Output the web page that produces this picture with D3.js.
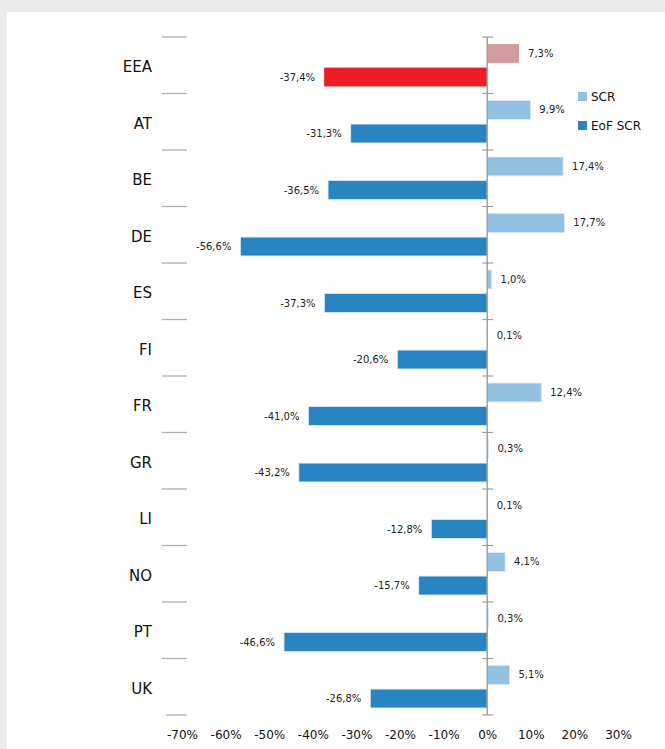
<!DOCTYPE html>
<html>
<head>
<meta charset="utf-8">
<script src="https://cdn.jsdelivr.net/npm/d3@7"></script>
<style>
  html, body { margin: 0; padding: 0; background: #ebebeb; }
  svg { display: block; font-family: "DejaVu Sans", Verdana, sans-serif; }
</style>
</head>
<body>
<script>
'use strict';

var countries = ["EEA", "AT", "BE", "DE", "ES", "FI", "FR", "GR", "LI", "NO", "PT", "UK"];
var scrValues = [7.3, 9.9, 17.4, 17.7, 1.0, 0.1, 12.4, 0.3, 0.1, 4.1, 0.3, 5.1];
var eofValues = [-37.4, -31.3, -36.5, -56.6, -37.3, -20.6, -41.0, -43.2, -12.8, -15.7, -46.6, -26.8];
var seriesNames = ["SCR", "EoF SCR"];
var xTicks = [-70, -60, -50, -40, -30, -20, -10, 0, 10, 20, 30];

var width = 665, height = 749;

var colors = {
  "SCR": "#93c1e1",
  "EoF SCR": "#2985c2",
  "EEA SCR": "#d49c9e",
  "EEA EoF SCR": "#ec1d27"
};

var rows = countries.map(function(c, i){
  return { country: c, "SCR": scrValues[i], "EoF SCR": eofValues[i] };
});

var svg = d3.select("body").append("svg")
  .attr("width", width)
  .attr("height", height);

// white panel
svg.append("rect")
  .attr("x", 7).attr("y", 12)
  .attr("width", width - 7).attr("height", height - 12)
  .attr("fill", "#fff");

var x = d3.scaleLinear().domain([-70, 30]).range([182, 618]);
var y = d3.scaleBand().domain(countries).range([37, 715]);
var ySub = d3.scaleBand().domain(seriesNames).range([0, y.bandwidth()])
  .paddingInner(0.2).paddingOuter(0.3);

var locale = d3.formatLocale({ decimal: ",", thousands: ".", grouping: [3], currency: ["", "%"], minus: "-" });
var fmt = function(v){ return locale.format(".1f")(v) + "%"; };

// separators on the left + small ticks on zero line
var bounds = countries.map(function(c){ return y(c); }).concat([y.range()[1]]);
svg.append("g").selectAll("line")
  .data(bounds)
  .enter().append("line")
  .attr("x1", function(d, i){ return i === bounds.length - 1 ? 166 : 162; })
  .attr("x2", 187)
  .attr("y1", function(d){ return d; })
  .attr("y2", function(d){ return d; })
  .attr("stroke", "#b0b0b0")
  .attr("stroke-width", 1.3);

// bars
var groups = svg.append("g").selectAll("g")
  .data(rows)
  .enter().append("g")
  .attr("transform", function(d){ return "translate(0," + y(d.country) + ")"; });

groups.selectAll("rect")
  .data(function(d){
    return seriesNames.map(function(s){ return { country: d.country, series: s, value: d[s] }; });
  })
  .enter().append("rect")
  .attr("x", function(d){ return x(Math.min(0, d.value)); })
  .attr("y", function(d){ return ySub(d.series); })
  .attr("width", function(d){ return Math.abs(x(d.value) - x(0)); })
  .attr("height", ySub.bandwidth())
  .attr("fill", function(d){
    return d.country === "EEA" ? colors["EEA " + d.series] : colors[d.series];
  })
  .attr("stroke", function(d){ return d.country === "EEA" ? "none" : "#d6e7f4"; })
  .attr("stroke-width", 0.8);

groups.selectAll("text")
  .data(function(d){
    return seriesNames.map(function(s){ return { series: s, value: d[s] }; });
  })
  .enter().append("text")
  .attr("x", function(d){ return d.value >= 0 ? x(d.value) + 9 : x(d.value) - 9; })
  .attr("y", function(d){ return ySub(d.series) + ySub.bandwidth() / 2; })
  .attr("dy", "0.35em")
  .attr("text-anchor", function(d){ return d.value >= 0 ? "start" : "end"; })
  .attr("font-size", "10px")
  .attr("fill", "#222")
  .text(function(d){ return fmt(d.value); });

// zero axis
svg.append("line")
  .attr("x1", x(0)).attr("x2", x(0))
  .attr("y1", y.range()[0]).attr("y2", y.range()[1])
  .attr("stroke", "#a0a0a0")
  .attr("stroke-width", 1.5);

svg.append("g").selectAll("line")
  .data(bounds)
  .enter().append("line")
  .attr("x1", x(0) - 5).attr("x2", x(0) + 6)
  .attr("y1", function(d){ return d; })
  .attr("y2", function(d){ return d; })
  .attr("stroke", "#a0a0a0")
  .attr("stroke-width", 1.2);

// category labels
svg.append("g").selectAll("text")
  .data(countries)
  .enter().append("text")
  .attr("x", 152)
  .attr("y", function(c){ return y(c) + y.bandwidth() / 2 + 1.5; })
  .attr("dy", "0.35em")
  .attr("text-anchor", "end")
  .attr("font-size", "15px")
  .attr("fill", "#111")
  .text(function(c){ return c; });

// x axis labels
var xAxis = d3.axisBottom(x)
  .tickValues(xTicks)
  .tickSize(0)
  .tickPadding(15.5)
  .tickFormat(function(d){ return d + "%"; });

var gx = svg.append("g")
  .attr("transform", "translate(0,715)")
  .call(xAxis);
gx.select(".domain").remove();
gx.selectAll("text")
  .attr("font-family", "DejaVu Sans, Verdana, sans-serif")
  .attr("font-size", "12px")
  .attr("fill", "#111");

// legend
var legend = svg.append("g").selectAll("g")
  .data(seriesNames)
  .enter().append("g")
  .attr("transform", function(d, i){ return "translate(578," + (92 + i * 29) + ")"; });

legend.append("rect")
  .attr("width", 9).attr("height", 9)
  .attr("fill", function(d){ return colors[d]; });

legend.append("text")
  .attr("x", 13)
  .attr("y", 9)
  .attr("font-size", "12px")
  .attr("fill", "#111")
  .text(function(d){ return d; });
</script>
</body>
</html>
